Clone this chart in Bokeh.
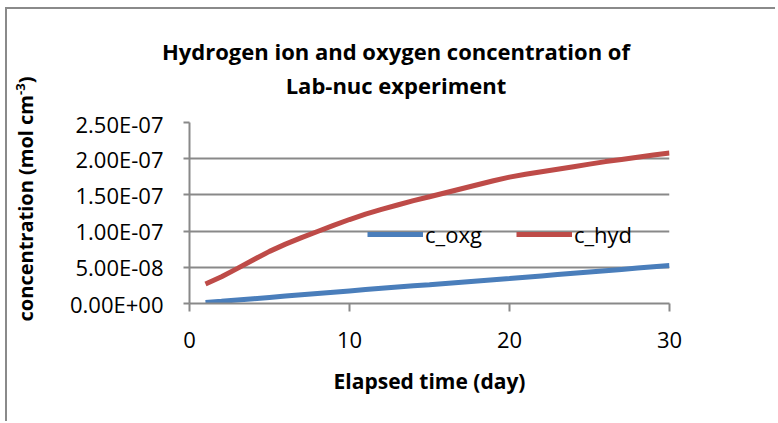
from bokeh.plotting import figure
from bokeh.layouts import column, row
from bokeh.models import (Range1d, FixedTicker, CustomJSTickFormatter, Legend, LegendItem, Div)
from bokeh.embed import file_html
from bokeh.resources import INLINE

# ---- data ----
days = list(range(1, 31))
c_hyd = [2.7e-8, 3.7e-8, 4.85e-8, 6.05e-8, 7.2e-8, 8.2e-8, 9.1e-8, 9.95e-8, 10.8e-8, 11.6e-8,
         12.35e-8, 13.0e-8, 13.6e-8, 14.2e-8, 14.75e-8, 15.3e-8, 15.85e-8, 16.4e-8, 16.95e-8, 17.45e-8,
         17.85e-8, 18.2e-8, 18.55e-8, 18.9e-8, 19.25e-8, 19.6e-8, 19.9e-8, 20.2e-8, 20.5e-8, 20.8e-8]
c_oxg = [0.14e-8, 0.3e-8, 0.48e-8, 0.66e-8, 0.84e-8, 1.02e-8, 1.2e-8, 1.38e-8, 1.56e-8, 1.74e-8,
         1.92e-8, 2.1e-8, 2.28e-8, 2.44e-8, 2.6e-8, 2.77e-8, 2.94e-8, 3.11e-8, 3.28e-8, 3.45e-8,
         3.63e-8, 3.81e-8, 3.99e-8, 4.17e-8, 4.35e-8, 4.53e-8, 4.71e-8, 4.89e-8, 5.07e-8, 5.25e-8]
x_ticks = [0, 10, 20, 30]
y_ticks = [0, 5e-8, 1e-7, 1.5e-7, 2e-7, 2.5e-7]
title_lines = ["Hydrogen ion and oxygen concentration of", "Lab-nuc experiment"]
x_label = "Elapsed time (day)"
y_label_html = 'concentration (mol cm<sup style="font-size:13px">-3</sup>)'
series_names = ["c_oxg", "c_hyd"]

FONT = "Open Sans"
GRID = "#898989"

# rotated y-axis title in its own column on the left
ylab_div = Div(
    text=('<div style="width:0px;height:0px;margin-left:16px;margin-top:190px;">'
          '<span style="display:inline-block;white-space:nowrap;'
          'transform:translate(-50%,-50%) rotate(-90deg);">' + y_label_html + '</span></div>'),
    width=40, height=412,
    styles={"font-family": "'Open Sans'", "font-size": "20px", "font-weight": "bold",
            "color": "black", "line-height": "24px", "margin": "0px"})

# title block (two centred lines)
title_div = Div(
    text="<br>".join(title_lines), width=728, height=89,
    styles={"font-family": "'Open Sans'", "font-size": "22px", "font-weight": "bold",
            "color": "black", "line-height": "34px", "text-align": "center",
            "box-sizing": "border-box", "padding-top": "20px",
            "width": "698px", "margin-left": "0px"})

p = figure(width=728, height=313, output_backend="svg", toolbar_location=None,
           x_range=Range1d(0, 30), y_range=Range1d(0, 2.5e-7),
           min_border_left=142, min_border_right=106, min_border_top=14, min_border_bottom=118)
p.title = None
p.outline_line_color = None
p.background_fill_color = "white"
p.border_fill_color = "white"

l_oxg = p.line(days, c_oxg, line_color="#4A7EBB", line_width=5)
l_hyd = p.line(days, c_hyd, line_color="#BE4B48", line_width=5)

# axes
p.xaxis.ticker = FixedTicker(ticks=x_ticks)
p.yaxis.ticker = FixedTicker(ticks=y_ticks)
p.yaxis.formatter = CustomJSTickFormatter(code="""
const s = tick.toExponential(2).toUpperCase();
return s.replace(/E([+-])(\\d)$/, 'E$10$2');
""")
for ax in (p.xaxis[0], p.yaxis[0]):
    ax.axis_line_color = GRID
    ax.axis_line_width = 2
    ax.major_tick_line_color = GRID
    ax.major_tick_line_width = 2
    ax.major_tick_in = 0
    ax.minor_tick_line_color = None
    ax.major_label_text_font = FONT
    ax.major_label_text_font_size = "22px"
    ax.major_label_text_color = "black"
    ax.axis_label_text_font = FONT
    ax.axis_label_text_font_style = "bold"
    ax.axis_label_text_color = "black"
p.xaxis.major_tick_out = 8
p.yaxis.major_tick_out = 6
p.xaxis.major_label_standoff = 20
p.yaxis.major_label_standoff = 20
p.xaxis.axis_label = x_label
p.xaxis.axis_label_text_font_size = "21px"
p.xaxis.axis_label_standoff = 16

p.xgrid.grid_line_color = None
p.ygrid.grid_line_color = GRID
p.ygrid.grid_line_width = 2

legend = Legend(items=[LegendItem(label=series_names[0], renderers=[l_oxg]),
                       LegendItem(label=series_names[1], renderers=[l_hyd])],
                location=(178, 54), orientation="horizontal",
                background_fill_alpha=0, border_line_color=None,
                padding=0, margin=0, spacing=34, label_standoff=2,
                glyph_width=56, glyph_height=20,
                label_text_font=FONT, label_text_font_size="22px", label_text_color="black")
p.add_layout(legend, "center")

layout = row(ylab_div, column(title_div, p, spacing=0), spacing=0,
             styles={"margin-left": "5px", "margin-top": "7px", "background-color": "white",
                     "border-top": "2px solid #8a8a8a", "border-left": "2px solid #8a8a8a"})

open("out.html", "w").write(file_html(layout, INLINE))
